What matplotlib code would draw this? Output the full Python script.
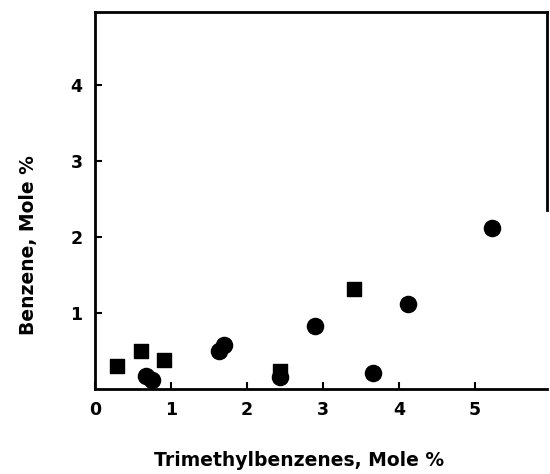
import matplotlib
matplotlib.use("Agg")
import matplotlib.pyplot as plt

# squares
square_x = [0.29, 0.61, 0.91, 2.44, 3.41]
square_y = [0.30, 0.49, 0.38, 0.23, 1.31]

# circles
circle_x = [0.67, 0.75, 1.63, 1.70, 2.44, 2.89, 3.66, 4.12, 5.23]
circle_y = [0.17, 0.11, 0.49, 0.57, 0.15, 0.82, 0.20, 1.11, 2.12]

x_ticks = [0, 1, 2, 3, 4, 5]
y_ticks = [1, 2, 3, 4]

fig = plt.figure(figsize=(5.5, 4.74), dpi=100)
ax = fig.add_axes([0.1727, 0.180, 0.822, 0.795])

ax.scatter(square_x, square_y, marker='s', s=110, color='black', zorder=3)
ax.scatter(circle_x, circle_y, marker='o', s=135, color='black', zorder=3)

ax.set_xlim(0, 5.95)
ax.set_ylim(0, 4.96)

ax.set_xticks(x_ticks)
ax.set_yticks(y_ticks)
ax.tick_params(direction='in', length=5, width=1.5, labelsize=12.5, pad=9)
for lbl in ax.get_xticklabels() + ax.get_yticklabels():
    lbl.set_fontweight('bold')

for side in ['left', 'bottom', 'top', 'right']:
    ax.spines[side].set_linewidth(2)
# right frame line is faded in the lower part of the scan
ax.spines['right'].set_bounds(2.35, 4.96)

ax.set_xlabel("Trimethylbenzenes, Mole %", fontsize=13.5, fontweight='bold')
ax.set_ylabel("Benzene, Mole %", fontsize=13.5, fontweight='bold')
ax.xaxis.set_label_coords(0.451, -0.165)
ax.yaxis.set_label_coords(-0.125, 0.381)

plt.savefig('out.png', dpi=100)
